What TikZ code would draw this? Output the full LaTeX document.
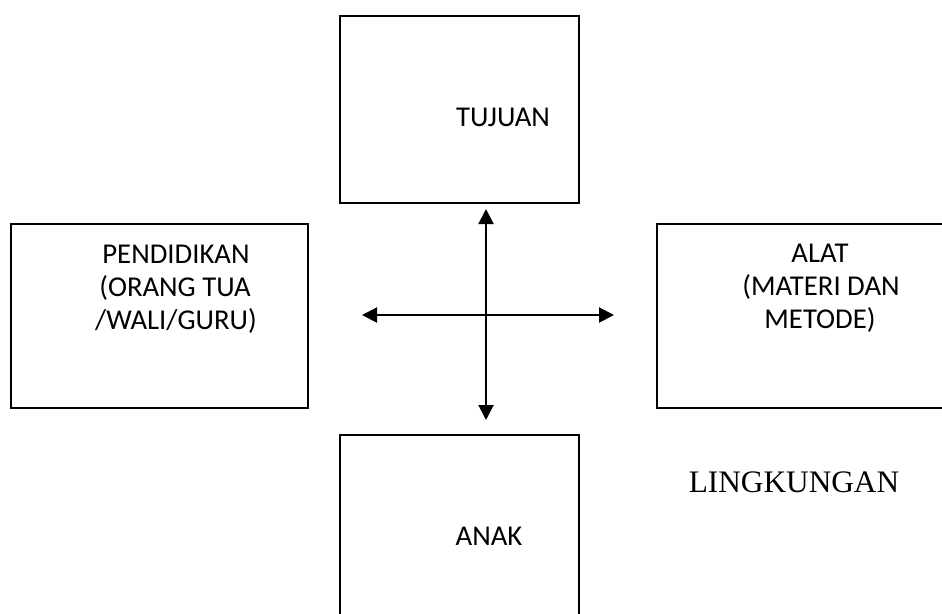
\documentclass[tikz,border=0pt]{standalone}
\usepackage{fontspec}
\setmainfont{Carlito}
\newfontfamily\tnrfont{Liberation Serif}
\usetikzlibrary{arrows.meta}
\begin{document}
\begin{tikzpicture}[x=1pt,y=-1pt,
  boxstyle/.style={draw=black,line width=2pt,fill=none},
  lbl/.style={inner sep=0pt,font=\fontsize{28.7}{35}\selectfont},
  lblc/.style={lbl,anchor=base},
  twoway/.style={{Triangle[length=15pt,width=15pt]}-{Triangle[length=15pt,width=15pt]},line width=2pt}]
\clip (0,0) rectangle (942,613);
\fill[white] (0,0) rectangle (942,613);
% boxes
\node[boxstyle,minimum width=239pt,minimum height=187pt,inner sep=0pt,anchor=north west] (tujuan) at (339,15) {};
\node[boxstyle,minimum width=297pt,minimum height=184pt,inner sep=0pt,anchor=north west] (pend) at (10,223) {};
\node[boxstyle,minimum width=300pt,minimum height=184pt,inner sep=0pt,anchor=north west] (alat) at (656,223) {};
\node[boxstyle,minimum width=239pt,minimum height=200pt,inner sep=0pt,anchor=north west] (anak) at (339,434) {};
% labels
\node[lblc] (tTujuan) at (503,126) {TUJUAN};
\node[lblc] (tPend1) at (176,263) {PENDIDIKAN};
\node[lblc] (tPend2) at (175,296) {(ORANG TUA};
\node[lblc] (tPend3) at (176,329) {/WALI/GURU)};
\node[lblc] (tAlat1) at (820,262) {ALAT};
\node[lblc] (tAlat2) at (821,295) {(MATERI DAN};
\node[lblc] (tAlat3) at (820,328) {METODE)};
\node[lblc] (tAnak) at (489,545) {ANAK};
\node[inner sep=0pt,anchor=base,font=\tnrfont\fontsize{31.3}{36}\selectfont] (ling) at (794,492) {LINGKUNGAN};
% arrows
\coordinate (hl) at (362,315);
\coordinate (hr) at (614,315);
\coordinate (vt) at (486,209);
\coordinate (vb) at (486,420);
\draw[twoway] (hl) -- (hr);
\draw[twoway] (vt) -- (vb);
\end{tikzpicture}
\end{document}
